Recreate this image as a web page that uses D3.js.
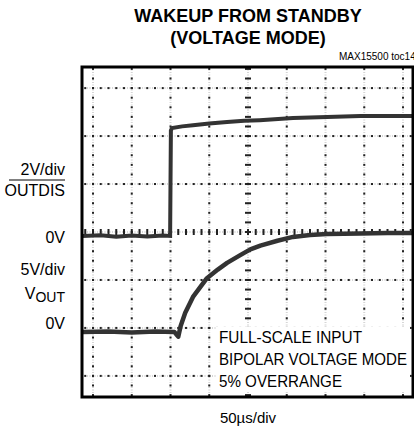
<!DOCTYPE html>
<html>
<head>
<meta charset="utf-8">
<script src="https://cdnjs.cloudflare.com/ajax/libs/d3/7.8.5/d3.min.js"></script>
<style>
  html, body { margin: 0; padding: 0; background: #fff; }
  svg { display: block; }
  text { font-family: "Liberation Sans Narrow", "Arial Narrow", "Liberation Sans", Arial, sans-serif; fill: #000; }
</style>
</head>
<body>
<svg id="chart" width="414" height="434"></svg>
<script>
// time axis: 50us/div, grid lines every 50us
var gridTimes = [0, 50, 100, 150, 200, 250, 300, 350, 400];
// vertical grid, in divisions from screen centre
var gridDivs = [-3, -2, -1, 0, 1, 2, 3];

// OUTDIS trace (2V/div)
var outdisTime = [-14, 10, 30, 50, 70, 90, 99.5, 100, 100.5, 102, 115, 129, 150, 173, 195, 215, 258, 302, 345, 380, 413];
var outdisVolts = [0, 0.03, -0.03, 0.02, -0.02, 0.02, 0, 2.2, 4.4, 4.5, 4.57, 4.62, 4.69, 4.75, 4.8, 4.83, 4.92, 4.96, 5.0, 5.0, 5.0];

// VOUT trace (5V/div)
var voutTime = [-14, 20, 50, 80, 105, 108, 110, 113, 119, 129, 147, 161, 173, 190, 203, 216, 238, 258, 280, 302, 345, 380, 413];
var voutVolts = [0, 0.05, -0.05, 0.05, 0, -0.3, -0.5, 0.6, 2.0, 3.65, 5.6, 6.5, 7.2, 8.0, 8.6, 9.0, 9.5, 9.9, 10.1, 10.2, 10.26, 10.3, 10.3];

// channel settings
var outdisPerDiv = 2, outdisZero = -0.083;
var voutPerDiv = 5, voutZero = -2.083;

var frame = {left: 82, right: 413, top: 67, bottom: 397};

var x = d3.scaleLinear().domain([-14.2, 412.9]).range([frame.left, frame.right]),
    y = d3.scaleLinear().domain([-3.44, 3.44]).range([frame.bottom, frame.top]);

var svg = d3.select('#chart');

// title
svg.append('text')
   .attr('x', 248).attr('y', 22)
   .attr('text-anchor', 'middle')
   .style('font-weight', 'bold').style('font-size', '18px')
   .text('WAKEUP FROM STANDBY');
svg.append('text')
   .attr('x', 248).attr('y', 44)
   .attr('text-anchor', 'middle')
   .style('font-weight', 'bold').style('font-size', '18px')
   .text('(VOLTAGE MODE)');
svg.append('text')
   .attr('x', 339).attr('y', 60)
   .style('font-size', '10px')
   .text('MAX15500 toc14');

var plot = svg.append('g');

// grid lines (light stipple)
plot.selectAll('.vgrid')
    .data(gridTimes)
    .enter()
    .append('line')
    .attr('x1', function(d) { return x(d); })
    .attr('x2', function(d) { return x(d); })
    .attr('y1', frame.top).attr('y2', frame.bottom)
    .attr('stroke', '#d6d6d6')
    .attr('stroke-width', 2)
    .attr('stroke-dasharray', '1,1.5');

plot.selectAll('.hgrid')
    .data(gridDivs)
    .enter()
    .append('line')
    .attr('y1', function(d) { return y(d); })
    .attr('y2', function(d) { return y(d); })
    .attr('x1', frame.left).attr('x2', frame.right)
    .attr('stroke', '#d6d6d6')
    .attr('stroke-width', 2)
    .attr('stroke-dasharray', '1,1.5');

// minor dots: every 1/5 div
var minorT = d3.range(-10, 413, 10),
    minorD = d3.range(-3.4, 3.45, 0.2);

gridDivs.forEach(function(g) {
  if (g === 0) return;
  plot.selectAll(null)
      .data(minorT)
      .enter()
      .append('rect')
      .attr('x', function(d) { return x(d) - 1; })
      .attr('y', y(g) - 1)
      .attr('width', 2).attr('height', 2)
      .attr('fill', '#222');
});

gridTimes.forEach(function(g) {
  if (g === 200) return;
  plot.selectAll(null)
      .data(minorD)
      .enter()
      .append('rect')
      .attr('x', x(g) - 1)
      .attr('y', function(d) { return y(d) - 1; })
      .attr('width', 2).attr('height', 2)
      .attr('fill', '#222');
});

// centre axes with tick marks
plot.selectAll(null)
    .data(minorT)
    .enter()
    .append('rect')
    .attr('x', function(d) { return x(d) - 1; })
    .attr('y', y(0) - 3)
    .attr('width', 2).attr('height', 6)
    .attr('fill', '#222');

plot.selectAll(null)
    .data(minorD)
    .enter()
    .append('rect')
    .attr('x', x(200) - 3)
    .attr('y', function(d) { return y(d) - 1; })
    .attr('width', 6).attr('height', 2)
    .attr('fill', '#222');

// traces
var line = d3.line()
             .x(function(d) { return x(d[0]); })
             .y(function(d) { return y(d[1]); });

var outdisData = outdisTime.map(function(t, i) { return [t, outdisVolts[i] / outdisPerDiv + outdisZero]; }),
    voutData = voutTime.map(function(t, i) { return [t, voutVolts[i] / voutPerDiv + voutZero]; });

plot.append('path')
    .datum(outdisData)
    .attr('d', line)
    .attr('fill', 'none')
    .attr('stroke', '#333')
    .attr('stroke-width', 4)
    .attr('stroke-linejoin', 'miter');

plot.append('path')
    .datum(voutData)
    .attr('d', line)
    .attr('fill', 'none')
    .attr('stroke', '#333')
    .attr('stroke-width', 4.5)
    .attr('stroke-linejoin', 'round');

// annotation box
plot.append('rect')
    .attr('x', 216).attr('y', 327)
    .attr('width', 194).attr('height', 64)
    .attr('fill', '#fff');

var notes = ['FULL-SCALE INPUT', 'BIPOLAR VOLTAGE MODE', '5% OVERRANGE'],
    noteWidths = [143, 188, 123];

plot.selectAll('.note')
    .data(notes)
    .enter()
    .append('text')
    .attr('x', 219)
    .attr('y', function(d, i) { return 343 + i * 22; })
    .attr('textLength', function(d, i) { return noteWidths[i]; })
    .attr('lengthAdjust', 'spacingAndGlyphs')
    .style('font-size', '17px')
    .text(function(d) { return d; });

// frame
svg.append('rect')
   .attr('x', frame.left).attr('y', frame.top)
   .attr('width', frame.right - frame.left)
   .attr('height', frame.bottom - frame.top)
   .attr('fill', 'none')
   .attr('stroke', '#000')
   .attr('stroke-width', 3);

// channel labels
var labels = svg.append('g')
                .attr('text-anchor', 'end')
                .style('font-size', '16px');

labels.append('text').attr('x', 65).attr('y', 175).text('2V/div');
labels.append('line')
      .attr('x1', 9).attr('x2', 65)
      .attr('y1', 180).attr('y2', 180)
      .attr('stroke', '#000').attr('stroke-width', 1);
labels.append('text').attr('x', 65).attr('y', 196).text('OUTDIS');
labels.append('text').attr('x', 65).attr('y', 243).text('0V');
labels.append('text').attr('x', 65).attr('y', 275).text('5V/div');
var vout = labels.append('text').attr('x', 65).attr('y', 299);
vout.append('tspan').text('V');
vout.append('tspan').attr('dy', 3).style('font-size', '14px').text('OUT');
labels.append('text').attr('x', 65).attr('y', 329).text('0V');

// time scale
svg.append('text')
   .attr('x', 248).attr('y', 423)
   .attr('text-anchor', 'middle')
   .style('font-size', '15px')
   .text('50\u00b5s/div');
</script>
</body>
</html>
